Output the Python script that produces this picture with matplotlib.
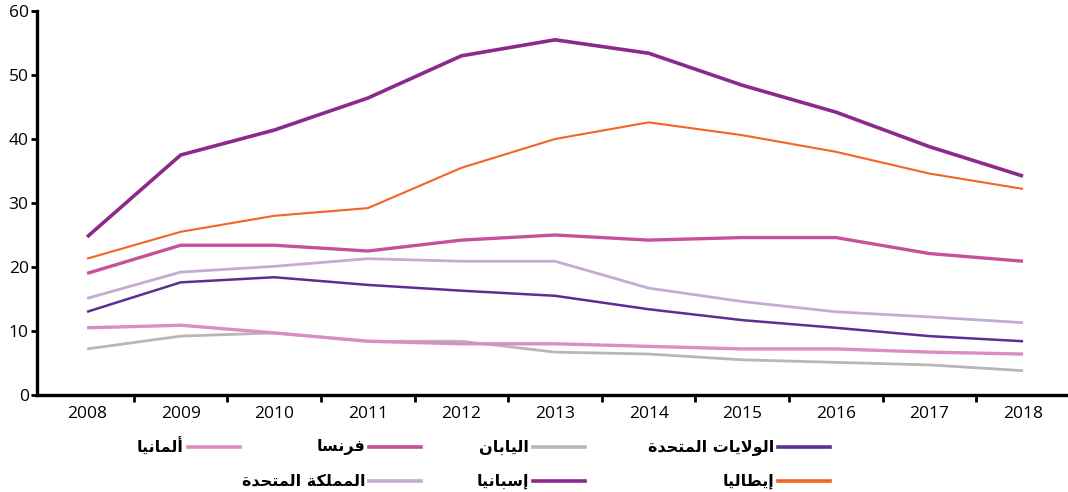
import matplotlib
matplotlib.use("Agg")
import matplotlib.pyplot as plt
from matplotlib.lines import Line2D

# data
years = [2008, 2009, 2010, 2011, 2012, 2013, 2014, 2015, 2016, 2017, 2018]
spain = [24.7, 37.5, 41.4, 46.4, 53.0, 55.5, 53.4, 48.4, 44.2, 38.8, 34.2]
italy = [21.3, 25.5, 28.0, 29.2, 35.5, 40.0, 42.6, 40.6, 38.0, 34.6, 32.2]
france = [19.0, 23.4, 23.4, 22.5, 24.2, 25.0, 24.2, 24.6, 24.6, 22.1, 20.9]
uk = [15.1, 19.2, 20.1, 21.3, 20.9, 20.9, 16.7, 14.6, 13.0, 12.2, 11.3]
usa = [13.0, 17.6, 18.4, 17.2, 16.3, 15.5, 13.4, 11.7, 10.5, 9.2, 8.4]
germany = [10.5, 10.9, 9.7, 8.4, 8.0, 8.0, 7.6, 7.2, 7.2, 6.7, 6.4]
japan = [7.2, 9.2, 9.7, 8.4, 8.4, 6.7, 6.4, 5.5, 5.1, 4.7, 3.8]

# label order: drawn bottom to top
series = [
    ("اليابان", japan, "#b7b7b7", 2.0),
    ("ألمانيا", germany, "#d98ec2", 2.4),
    ("الولايات المتحدة", usa, "#5c2e91", 1.8),
    ("المملكة المتحدة", uk, "#c4abd4", 2.0),
    ("فرنسا", france, "#c6509c", 2.4),
    ("إيطاليا", italy, "#f26522", 1.5),
    ("إسبانيا", spain, "#8b2a8c", 2.6),
]

# --- minimal arabic shaping (matplotlib has no bidi / joining) ---
FORMS = {
    "\u0627": ("\uFE8D", "\uFE8E", None, None),
    "\u0623": ("\uFE83", "\uFE84", None, None),
    "\u0625": ("\uFE87", "\uFE88", None, None),
    "\u0628": ("\uFE8F", "\uFE90", "\uFE91", "\uFE92"),
    "\u0629": ("\uFE93", "\uFE94", None, None),
    "\u062A": ("\uFE95", "\uFE96", "\uFE97", "\uFE98"),
    "\u062D": ("\uFEA1", "\uFEA2", "\uFEA3", "\uFEA4"),
    "\u062F": ("\uFEA9", "\uFEAA", None, None),
    "\u0631": ("\uFEAD", "\uFEAE", None, None),
    "\u0633": ("\uFEB1", "\uFEB2", "\uFEB3", "\uFEB4"),
    "\u0637": ("\uFEC1", "\uFEC2", "\uFEC3", "\uFEC4"),
    "\u0641": ("\uFED1", "\uFED2", "\uFED3", "\uFED4"),
    "\u0643": ("\uFED9", "\uFEDA", "\uFEDB", "\uFEDC"),
    "\u0644": ("\uFEDD", "\uFEDE", "\uFEDF", "\uFEE0"),
    "\u0645": ("\uFEE1", "\uFEE2", "\uFEE3", "\uFEE4"),
    "\u0646": ("\uFEE5", "\uFEE6", "\uFEE7", "\uFEE8"),
    "\u0648": ("\uFEED", "\uFEEE", None, None),
    "\u064A": ("\uFEF1", "\uFEF2", "\uFEF3", "\uFEF4"),
    "\u0644\u0627": ("\uFEFB", "\uFEFC", None, None),
    "\u0644\u0623": ("\uFEF7", "\uFEF8", None, None),
    "\u0644\u0625": ("\uFEF9", "\uFEFA", None, None),
}


def shape(text):
    tokens = []
    i = 0
    while i < len(text):
        pair = text[i:i + 2]
        if pair in FORMS and len(pair) == 2:
            tokens.append(pair)
            i += 2
        else:
            tokens.append(text[i])
            i += 1
    out = []
    for k, t in enumerate(tokens):
        if t not in FORMS:
            out.append(t)
            continue
        iso, fin, ini, med = FORMS[t]
        prev = tokens[k - 1] if k > 0 else None
        nxt = tokens[k + 1] if k + 1 < len(tokens) else None
        joins_prev = prev in FORMS and FORMS[prev][2] is not None
        joins_next = ini is not None and nxt in FORMS
        if joins_prev and joins_next:
            out.append(med)
        elif joins_prev:
            out.append(fin)
        elif joins_next:
            out.append(ini)
        else:
            out.append(iso)
    return "".join(reversed(out))


plt.rcParams["font.family"] = ["Open Sans", "DejaVu Sans"]

fig = plt.figure(figsize=(10.68, 4.92), dpi=100)
ax = fig.add_axes([37 / 1068, 97 / 492, 1 - 37 / 1068, 384 / 492])

x = list(range(len(years)))
for name, vals, color, lw in series:
    ax.plot(x, vals, color=color, lw=lw, solid_capstyle="butt")

ax.set_xlim(-0.535, 10.48)
ax.set_ylim(0, 60)
ax.set_yticks(range(0, 61, 10))
ax.set_xticks(x)
ax.set_xticklabels([str(y) for y in years])
ax.set_xticks([i + 0.5 for i in x[:-1]], minor=True)
ax.tick_params(axis="x", which="major", length=0, pad=8, labelsize=12.5)
ax.tick_params(axis="x", which="minor", length=5, width=2, direction="out")
ax.tick_params(axis="y", length=4, width=2, direction="out", pad=2, labelsize=12.5)
for s in ["top", "right"]:
    ax.spines[s].set_visible(False)
for s in ["left", "bottom"]:
    ax.spines[s].set_linewidth(2.4)

# legend, right-to-left: label sits to the left of its swatch
legend_items = [
    ("الولايات المتحدة", "#5c2e91", 778, 447),
    ("إيطاليا", "#f26522", 778, 481),
    ("اليابان", "#b7b7b7", 533, 447),
    ("إسبانيا", "#8b2a8c", 533, 481),
    ("فرنسا", "#c6509c", 369, 447),
    ("المملكة المتحدة", "#c4abd4", 369, 481),
    ("ألمانيا", "#d98ec2", 188, 447),
]
W, H = 1068, 492
for name, color, x0, y0 in legend_items:
    fy = 1 - y0 / H
    fig.add_artist(Line2D([x0 / W, (x0 + 52) / W], [fy, fy], color=color,
                          lw=2.6, transform=fig.transFigure))
    fig.text((x0 - 4) / W, fy, shape(name), ha="right", va="center",
             fontsize=11.5, fontweight="bold", family="DejaVu Sans")

fig.savefig("out.png", dpi=100)
